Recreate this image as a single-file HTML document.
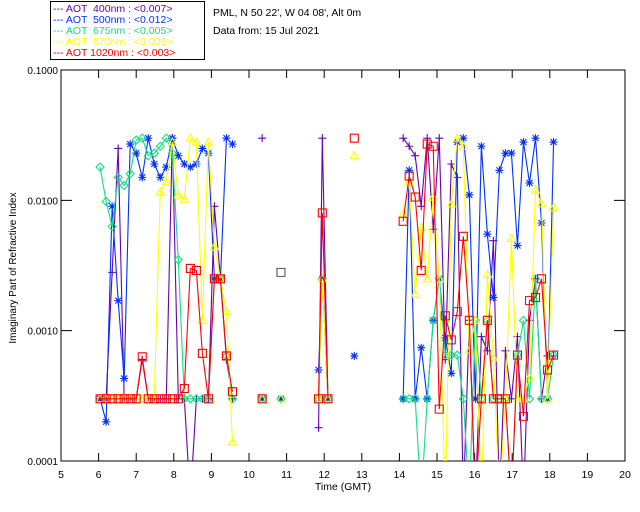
<!DOCTYPE html>
<html><head><meta charset="utf-8"><style>
body{margin:0;background:#fff;}
svg{display:block;font-family:"Liberation Sans",sans-serif;}
</style></head><body>
<svg id="chart" width="640" height="512" viewBox="0 0 640 512">
<g>
<rect x="50.5" y="1.5" width="154" height="58" fill="#fff" stroke="#000"/>
<g font-size="10.5">
<text x="53" y="12" fill="#6a00b0">--- AOT &#160;400nm : &lt;0.007&gt;</text>
<text x="53" y="23" fill="#0030ff">--- AOT &#160;500nm : &lt;0.012&gt;</text>
<text x="53" y="34" fill="#10e080">--- AOT &#160;675nm : &lt;0.005&gt;</text>
<text x="53" y="45" fill="#ffff00">--- AOT &#160;870nm : &lt;0.006&gt;</text>
<text x="53" y="56" fill="#ff0000">--- AOT 1020nm : &lt;0.003&gt;</text>
</g></g>
<text x="213" y="16" font-size="10.5" fill="#000">PML, N 50 22', W 04 08', Alt 0m</text>
<text x="213" y="34" font-size="10.5" fill="#000">Data from: 15 Jul 2021</text>
<text x="343" y="490" font-size="10.5" text-anchor="middle">Time (GMT)</text>
<text transform="translate(16,268) rotate(-90)" font-size="10" text-anchor="middle">Imaginary Part of Refractive Index</text>
<defs><clipPath id="pc"><rect x="61" y="70" width="564" height="391"/></clipPath></defs>
<g id="axes"></g>
<g id="series" clip-path="url(#pc)"></g>
</svg>
<script>
const T = [6.04,6.2,6.36,6.52,6.68,6.84,7.0,7.16,7.32,7.48,7.64,7.8,7.96,8.12,8.28,8.44,8.6,8.76,8.92,9.08,9.24,9.4,9.56,
 10.35,10.85,11.85,11.95,12.1,12.8,
 14.1,14.26,14.42,14.58,14.74,14.9,15.06,15.22,15.38,15.54,15.7,15.86,16.02,16.18,16.34,16.5,16.66,16.82,16.98,17.14,17.3,17.46,17.62,17.78,17.94,18.1];
const purple = [0.0003,0.0003,0.0028,0.025,0.0003,0.0003,0.0003,0.0006,0.0003,0.0003,0.0003,0.0003,0.03,0.0003,0.0003,0.00005,0.0003,0.0003,0.0003,0.009,0.0025,0.0006,0.0003,
 0.03,0.0003,0.00018,0.03,0.0003,null,
 0.03,0.026,0.022,0.009,0.03,0.006,0.03,0.0006,0.019,0.015,0.00005,0.0012,0.00005,0.0009,0.0007,0.0049,0.00005,0.0007,0.0003,0.0009,0.00005,0.0012,0.0025,0.0003,0.00064,0.00064];
const blue = [0.0003,0.0002,0.009,0.0017,0.00043,0.027,0.023,0.015,0.03,0.019,0.015,0.018,0.03,0.022,0.019,0.018,0.019,0.025,0.023,0.0025,0.0025,0.03,0.027,
 0.0003,0.0003,0.0005,0.0025,0.0003,0.00064,
 0.0003,0.017,0.0003,0.00074,0.0003,0.0012,0.0025,0.00088,0.00047,0.028,0.03,0.011,0.0003,0.026,0.0055,0.0018,0.017,0.023,0.023,0.0045,0.028,0.0136,0.03,0.0067,0.0003,0.028];
const green = [0.018,0.0098,0.0063,0.015,0.013,0.016,0.029,0.03,0.022,0.023,0.026,0.03,0.023,0.0035,0.0003,0.0003,0.0003,0.0003,0.0003,0.0025,0.0025,0.00064,0.0003,
 0.0003,0.0003,0.0003,0.0025,0.0003,null,
 0.0003,0.0003,0.0003,0.00005,0.0003,0.0012,0.0025,0.00065,0.00065,0.00065,0.0003,0.00005,0.0012,0.0003,0.0012,0.0003,0.0003,0.0003,0.00005,0.00065,0.0012,0.0003,0.0025,0.0003,0.0003,0.00065];
const yellow = [0.0003,0.0003,0.0003,0.0003,0.0003,0.0003,0.0003,0.0003,0.0003,0.0003,0.0116,0.014,0.028,0.011,0.0102,0.03,0.028,0.0012,0.028,0.0044,0.0025,0.0014,0.00014,
 0.0003,0.0003,0.0003,0.0025,0.0003,0.022,
 0.0079,0.014,0.0019,0.0062,0.0025,0.0106,0.0025,0.00005,0.0094,0.03,0.026,0.00071,0.0012,0.00005,0.0027,0.00062,0.00005,0.0003,0.0051,0.0003,0.0003,0.00044,0.012,0.0094,0.0003,0.0088];
const red = [0.0003,0.0003,0.0003,0.0003,0.0003,0.0003,0.0003,0.00063,0.0003,0.0003,0.0003,0.0003,0.0003,0.0003,0.00036,0.003,0.0029,0.00067,0.0003,0.0025,0.0025,0.00064,0.00034,
 0.0003,null,0.0003,0.008,0.0003,0.03,
 0.0069,0.0154,0.0106,0.0029,0.027,0.026,0.00025,0.0013,0.00085,0.0014,0.0053,0.0012,0.00005,0.0003,0.0012,0.0003,0.0003,0.0003,0.00005,0.00065,0.00022,0.0017,0.0018,0.0025,0.0005,0.00065];
const greyT = [10.85];
const greyV = [0.0028];
const xTicks = [5,6,7,8,9,10,11,12,13,14,15,16,17,18,19,20];
const yTicks = [0.1,0.01,0.001,0.0001];
const yTickLabels = ["0.1000","0.0100","0.0010","0.0001"];

const X0=61,X1=625,Y0=70,Y1=461;
const xs=t=>X0+(t-5)/(20-5)*(X1-X0);
const ys=v=>Y0+(Math.log10(0.1)-Math.log10(v))/(Math.log10(0.1)-Math.log10(0.0001))*(Y1-Y0);
const NS="http://www.w3.org/2000/svg";
function mk(tag,attrs,parent){const e=document.createElementNS(NS,tag);for(const k in attrs)e.setAttribute(k,attrs[k]);parent.appendChild(e);return e;}
const ax=document.getElementById('axes');
const frame=mk('rect',{x:X0,y:Y0,width:X1-X0,height:Y1-Y0,fill:'none',stroke:'#000','stroke-width':1},ax);


xTicks.forEach(t=>{
 const x=xs(t);
 const l=mk('path',{d:`M${x} ${Y1}V${Y1-8}M${x} ${Y0}V${Y0+8}`,stroke:'#000'},ax);
 
 
 const tx=mk('text',{x:x,y:Y1+17,'font-size':10.5,'text-anchor':'middle'},ax);
 tx.textContent=t;
 
 
});
yTicks.forEach((v,i)=>{
 const y=ys(v);
 const l=mk('path',{d:`M${X0} ${y}H${X0+11}M${X1} ${y}H${X1-11}`,stroke:'#000'},ax);
 
 
 const tx=mk('text',{x:X0-3,y:y+4,'font-size':10,'text-anchor':'end'},ax);
 tx.textContent=yTickLabels[i];
 
 
});
const sg=document.getElementById('series');
function marker(type,x,y,c,g){
 let d;
 if(type==='plus')d=`M${x-4} ${y}H${x+4}M${x} ${y-4}V${y+4}`;
 else if(type==='star')d=`M${x-4} ${y}H${x+4}M${x} ${y-4}V${y+4}M${x-3} ${y-3}L${x+3} ${y+3}M${x-3} ${y+3}L${x+3} ${y-3}`;
 else if(type==='diamond')d=`M${x} ${y-4}L${x+4} ${y}L${x} ${y+4}L${x-4} ${y}Z`;
 else if(type==='tri')d=`M${x} ${y-4}L${x+4} ${y+3}L${x-4} ${y+3}Z`;
 else d=`M${x-4} ${y-4}H${x+4}V${y+4}H${x-4}Z`;
 mk('path',{d:d,stroke:c,fill:'none','stroke-width':1.1},g);
}
function series(name,vals,c,type){
 const g=mk('g',{},sg);
 
 
 let d='',prev=null;
 T.forEach((t,i)=>{
  const v=vals[i];
  if(v==null){prev=null;return;}
  const x=xs(t),y=ys(v);
  if(prev!==null&&t-prev<0.5)d+=`L${x} ${y}`;else d+=`M${x} ${y}`;
  prev=t;
 });
 const p=mk('path',{d:d,stroke:c,fill:'none','stroke-width':1.1},g);
 
 
 T.forEach((t,i)=>{const v=vals[i];if(v!=null)marker(type,xs(t),ys(v),c,g);});
}
series('series-400nm',purple,'#6a00b0','plus');
series('series-500nm',blue,'#0030ff','star');
series('series-675nm',green,'#10e080','diamond');
series('series-870nm',yellow,'#ffff00','tri');
series('series-1020nm',red,'#ff0000','square');
const gg=mk('g',{},sg);


greyT.forEach((t,i)=>marker('square',xs(t),ys(greyV[i]),'#555',gg));
</script>
</body></html>
